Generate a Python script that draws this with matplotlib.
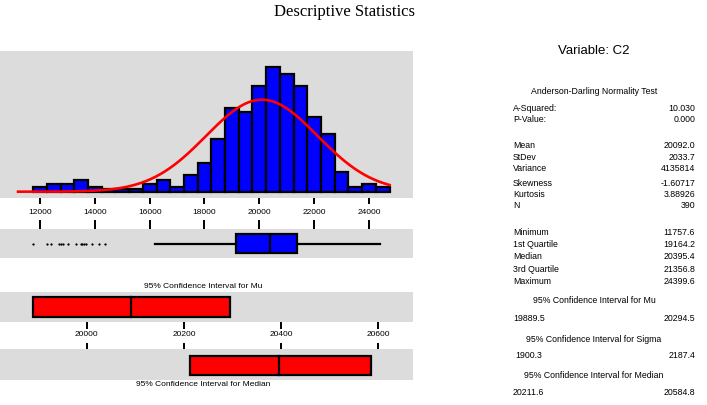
import numpy as np
import matplotlib
matplotlib.use("Agg")
import matplotlib.pyplot as plt

plt.rcParams['font.family'] = ['Liberation Sans', 'DejaVu Sans']

# histogram of C2: bin centres and counts
bin_centers = [12000, 12500, 13000, 13500, 14000, 14500, 15000, 15500, 16000,
               16500, 17000, 17500, 18000, 18500, 19000, 19500, 20000, 20500,
               21000, 21500, 22000, 22500, 23000, 23500, 24000, 24500]
bin_counts = [2, 3, 3, 5, 2, 1, 1, 1, 3, 5, 2, 7, 12, 22, 35, 33, 44, 52,
              49, 44, 31, 24, 8, 2, 3, 2]
bin_width = 500

mean = 20092.0
stdev = 2033.7
n = 390
q1, median, q3 = 19164.2, 20395.4, 21356.8
maximum = 24399.6
whisker_low = 16200
outliers = [11757.6, 12244, 12390, 12704, 12766, 12828, 13021, 13313, 13484,
            13543, 13605, 13667, 13886, 14152, 14371]
mu_ci = (19889.5, 20294.5)
median_ci = (20211.6, 20584.8)

hist_ticks = [12000, 14000, 16000, 18000, 20000, 22000, 24000]
ci_ticks = [20000, 20200, 20400, 20600]

stat_labels = ['A-Squared:', 'P-Value:', 'Mean', 'StDev', 'Variance', 'Skewness',
               'Kurtosis', 'N', 'Minimum', '1st Quartile', 'Median',
               '3rd Quartile', 'Maximum']
stat_values = ['10.030', '0.000', '20092.0', '2033.7', '4135814', '-1.60717',
               '3.88926', '390', '11757.6', '19164.2', '20395.4', '21356.8',
               '24399.6']
ci_titles = ['95% Confidence Interval for Mu',
             '95% Confidence Interval for Sigma',
             '95% Confidence Interval for Median']
ci_values = [('19889.5', '20294.5'), ('1900.3', '2187.4'), ('20211.6', '20584.8')]

W, H = 707, 405
PANEL = '#dcdcdc'
fig = plt.figure(figsize=(W / 100, H / 100), dpi=100)


def px_axes(x0, y0, x1, y1):
    ax = fig.add_axes([x0 / W, 1 - y1 / H, (x1 - x0) / W, (y1 - y0) / H])
    ax.set_facecolor(PANEL)
    for s in ax.spines.values():
        s.set_visible(False)
    ax.set_yticks([])
    return ax


def ftext(x, y, s, **kw):
    fig.text(x / W, 1 - y / H, s, va='center', **kw)


hist_lim = (10541, 25594)
ci_lim = (19821.6, 20670.8)

# histogram with fitted normal curve
ax = px_axes(0, 51, 412.7, 197.7)
ax.bar(bin_centers, bin_counts, width=bin_width, color='#0000ff',
       edgecolor='black', linewidth=1.6)
xs = np.linspace(11200, 24750, 400)
ys = n * bin_width * np.exp(-0.5 * ((xs - mean) / stdev) ** 2) / (stdev * np.sqrt(2 * np.pi))
ax.plot(xs, ys, color='red', lw=1.9)
ax.set_xlim(*hist_lim)
ax.set_ylim(-2.5, 58.5)
ax.set_xticks(hist_ticks)
ax.tick_params(axis='x', direction='out', length=4.3, width=1.4, pad=4, labelsize=6)

# boxplot
bx = px_axes(0, 229, 412.7, 257.7)
bx.bxp([dict(med=median, q1=q1, q3=q3, whislo=whisker_low, whishi=maximum,
             fliers=outliers)],
       positions=[0.49], widths=0.65, orientation='horizontal', patch_artist=True,
       showcaps=False, manage_ticks=False,
       boxprops=dict(facecolor='#0000ff', edgecolor='black', lw=1.6),
       medianprops=dict(color='black', lw=1.6),
       whiskerprops=dict(color='black', lw=1.6),
       flierprops=dict(marker='s', markersize=0.6, markerfacecolor='black',
                       markeredgecolor='black', lw=0))
bx.set_xlim(*hist_lim)
bx.set_ylim(0, 1)
bx.set_yticks([])
bx.set_xticks(hist_ticks)
bx.xaxis.tick_top()
bx.tick_params(axis='x', direction='out', length=6.5, width=1.4, labeltop=False)

# confidence interval for mu
mx = px_axes(0, 292.3, 412.7, 321.7)
mx.barh(0.505, mu_ci[1] - mu_ci[0], left=mu_ci[0], height=0.69, color='red',
        edgecolor='black', lw=1.6)
mx.plot([mean, mean], [0.16, 0.85], color='black', lw=1.6)
mx.set_xlim(*ci_lim)
mx.set_ylim(0, 1)
mx.set_xticks(ci_ticks)
mx.tick_params(axis='x', direction='out', length=5, width=1.4, pad=1.5, labelsize=6)

# confidence interval for median
dx = px_axes(0, 349, 412.7, 379.7)
dx.barh(0.465, median_ci[1] - median_ci[0], left=median_ci[0], height=0.63,
        color='red', edgecolor='black', lw=1.6)
dx.plot([median, median], [0.15, 0.78], color='black', lw=1.6)
dx.set_xlim(*ci_lim)
dx.set_ylim(0, 1)
dx.set_xticks(ci_ticks)
dx.xaxis.tick_top()
dx.tick_params(axis='x', direction='out', length=4, width=1.4, labeltop=False)

ftext(203, 286, ci_titles[0], ha='center', fontsize=6)
ftext(203, 384, ci_titles[2], ha='center', fontsize=6)

# titles
ftext(345, 12, 'Descriptive Statistics', ha='center', fontsize=12,
      family='Liberation Serif')
ftext(594, 50.5, 'Variable: C2', ha='center', fontsize=9.5)

# statistics table
ftext(594, 91, 'Anderson-Darling Normality Test', ha='center', fontsize=6.3)
row_y = [108.3, 120, 145, 157.3, 168.7, 183.3, 195, 206,
         232.3, 244.3, 256.3, 269, 281]
for y, lab, val in zip(row_y, stat_labels, stat_values):
    ftext(513, y, lab, ha='left', fontsize=6.3)
    ftext(695, y, val, ha='right', fontsize=6.3)

ci_title_y = [300.7, 339.3, 375.7]
ci_value_y = [318.3, 355.3, 392.7]
ci_left_x = [513, 515, 513]
for ty, vy, lx, title, (lo, hi) in zip(ci_title_y, ci_value_y, ci_left_x,
                                       ci_titles, ci_values):
    ftext(594, ty, title, ha='center', fontsize=6.3)
    ftext(lx, vy, lo, ha='left', fontsize=6.3)
    ftext(695, vy, hi, ha='right', fontsize=6.3)

fig.savefig('out.png', dpi=100)
